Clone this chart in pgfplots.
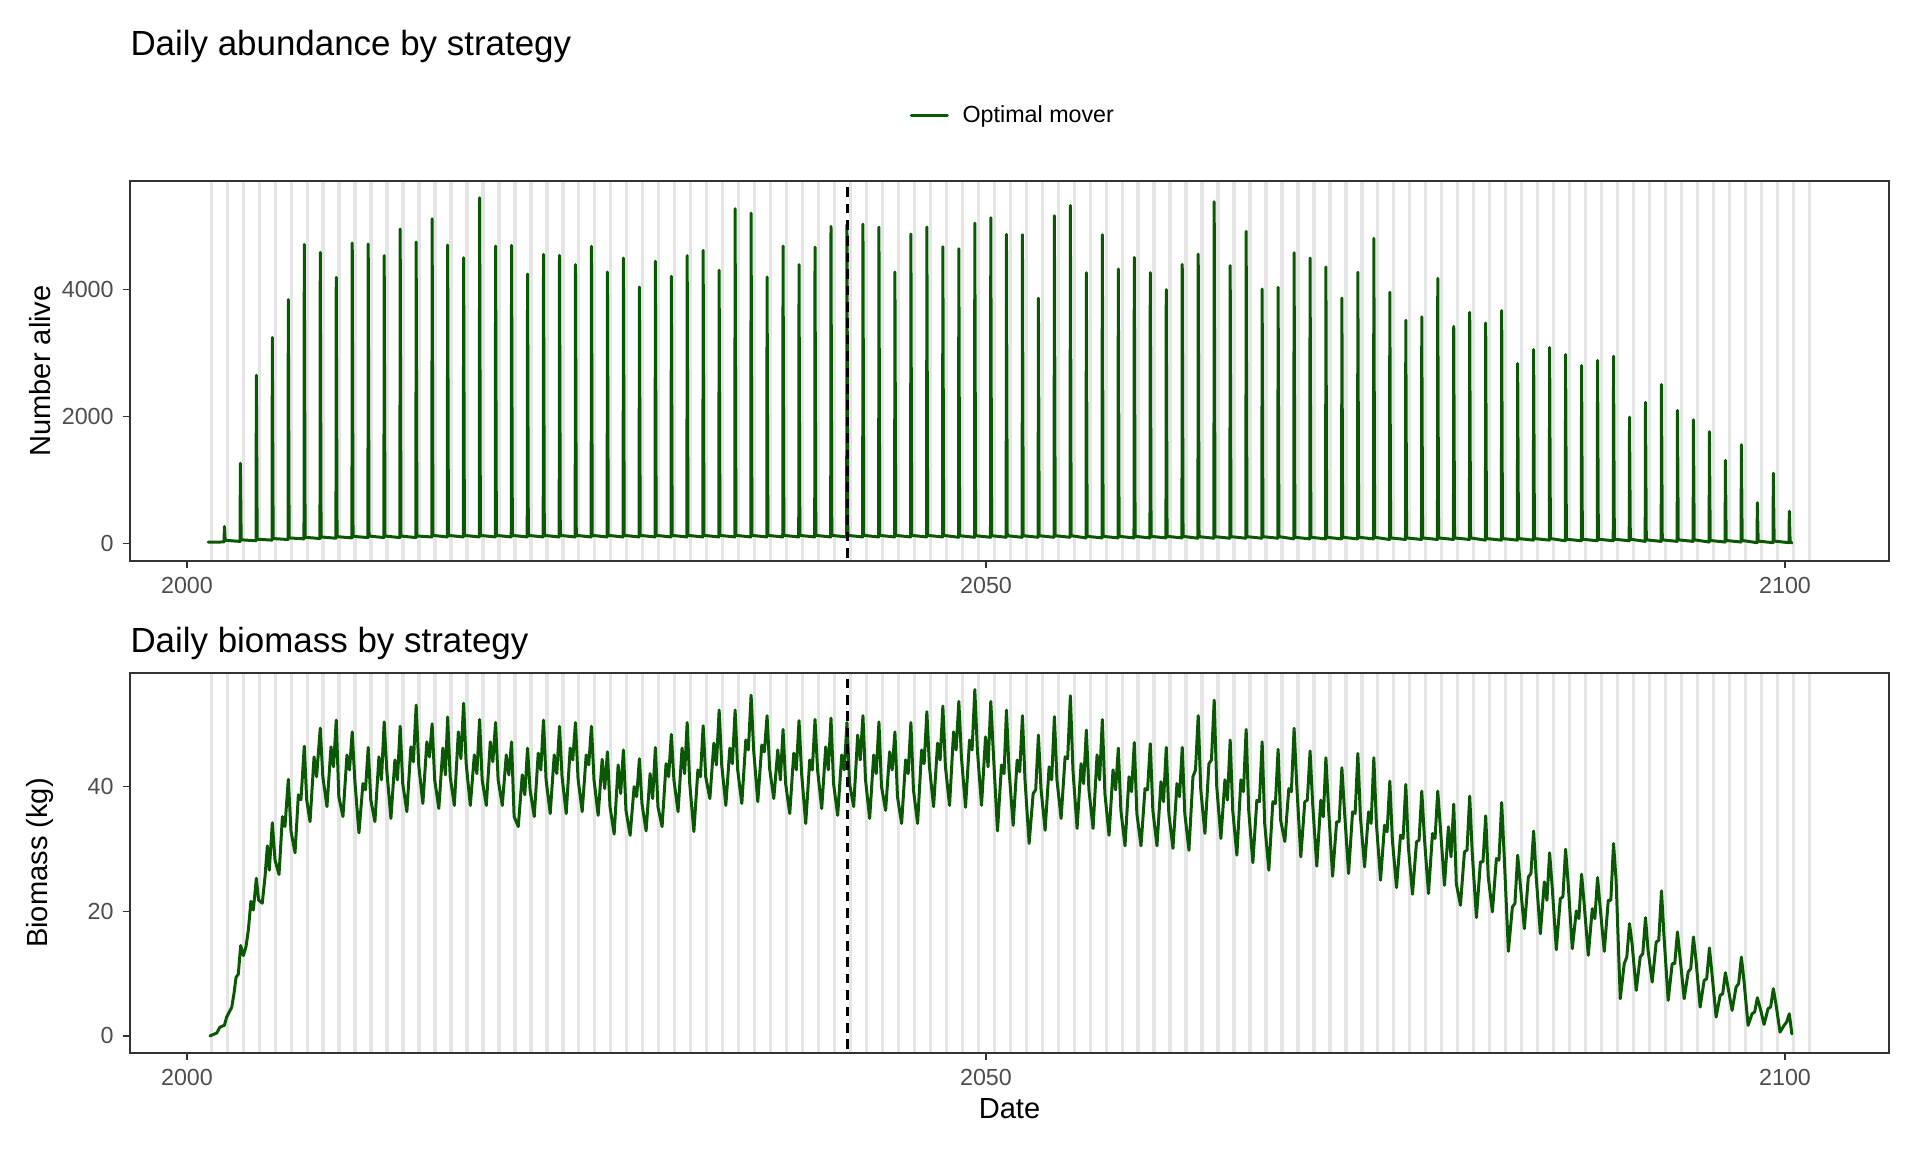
\documentclass[border=0pt]{standalone}
\usepackage{pgfplots}
\usepackage{pgfplotstable}
\pgfplotsset{compat=1.18}
\usepackage{fontspec}
\setmainfont{Liberation Sans}
\definecolor{mygreen}{RGB}{10,88,4}
\definecolor{vlinegray}{RGB}{229,229,229}
\definecolor{tickgray}{RGB}{77,77,77}
\definecolor{bordergray}{RGB}{51,51,51}

\pgfplotstableread[row sep=\\]{
x y\\
2001.33 20\\ 2001.70 18\\
2002.32 22\\ 2002.34 263\\ 2002.39 47\\
2003.32 30\\ 2003.34 1259\\ 2003.39 55\\
2004.32 40\\ 2004.34 2648\\ 2004.39 65\\
2005.32 50\\ 2005.34 3240\\ 2005.39 75\\
2006.32 60\\ 2006.34 3838\\ 2006.39 85\\
2007.32 70\\ 2007.34 4708\\ 2007.39 95\\
2008.32 75\\ 2008.34 4582\\ 2008.39 100\\
2009.32 80\\ 2009.34 4189\\ 2009.39 105\\
2010.32 85\\ 2010.34 4729\\ 2010.39 110\\
2011.32 90\\ 2011.34 4713\\ 2011.39 115\\
2012.32 90\\ 2012.34 4530\\ 2012.39 115\\
2013.32 90\\ 2013.34 4949\\ 2013.39 115\\
2014.32 90\\ 2014.34 4744\\ 2014.39 115\\
2015.32 100\\ 2015.34 5111\\ 2015.39 125\\
2016.29 100\\ 2016.31 4697\\ 2016.36 125\\
2017.29 100\\ 2017.31 4498\\ 2017.36 125\\
2018.29 100\\ 2018.31 5441\\ 2018.36 125\\
2019.29 100\\ 2019.31 4681\\ 2019.36 125\\
2020.29 100\\ 2020.31 4692\\ 2020.36 125\\
2021.29 100\\ 2021.31 4241\\ 2021.36 125\\
2022.29 100\\ 2022.31 4550\\ 2022.36 125\\
2023.29 100\\ 2023.31 4535\\ 2023.36 125\\
2024.29 100\\ 2024.31 4388\\ 2024.36 125\\
2025.29 100\\ 2025.31 4676\\ 2025.36 125\\
2026.29 100\\ 2026.31 4272\\ 2026.36 125\\
2027.29 100\\ 2027.31 4492\\ 2027.36 125\\
2028.29 100\\ 2028.31 4036\\ 2028.36 125\\
2029.29 100\\ 2029.31 4440\\ 2029.36 125\\
2030.29 100\\ 2030.31 4204\\ 2030.36 125\\
2031.28 100\\ 2031.30 4530\\ 2031.35 125\\
2032.28 100\\ 2032.30 4613\\ 2032.35 125\\
2033.28 100\\ 2033.30 4299\\ 2033.35 125\\
2034.28 100\\ 2034.30 5269\\ 2034.35 125\\
2035.28 100\\ 2035.30 5200\\ 2035.35 125\\
2036.28 100\\ 2036.30 4194\\ 2036.35 125\\
2037.28 100\\ 2037.30 4681\\ 2037.35 125\\
2038.28 100\\ 2038.30 4388\\ 2038.35 125\\
2039.28 100\\ 2039.30 4665\\ 2039.35 125\\
2040.28 100\\ 2040.30 4991\\ 2040.35 125\\
2041.28 100\\ 2041.30 5017\\ 2041.35 125\\
2042.28 100\\ 2042.30 5027\\ 2042.35 125\\
2043.28 100\\ 2043.30 4980\\ 2043.35 125\\
2044.28 100\\ 2044.30 4272\\ 2044.35 125\\
2045.28 100\\ 2045.30 4870\\ 2045.35 125\\
2046.28 100\\ 2046.30 4980\\ 2046.35 125\\
2047.28 100\\ 2047.30 4671\\ 2047.35 125\\
2048.28 95\\ 2048.30 4640\\ 2048.35 120\\
2049.28 95\\ 2049.30 5043\\ 2049.35 120\\
2050.28 95\\ 2050.30 5127\\ 2050.35 120\\
2051.26 95\\ 2051.28 4865\\ 2051.33 120\\
2052.26 95\\ 2052.28 4860\\ 2052.33 120\\
2053.26 95\\ 2053.28 3858\\ 2053.33 120\\
2054.26 95\\ 2054.28 5158\\ 2054.33 120\\
2055.26 95\\ 2055.28 5321\\ 2055.33 120\\
2056.26 85\\ 2056.28 4262\\ 2056.33 110\\
2057.26 85\\ 2057.28 4860\\ 2057.33 110\\
2058.26 85\\ 2058.28 4320\\ 2058.33 110\\
2059.26 85\\ 2059.28 4503\\ 2059.33 110\\
2060.26 85\\ 2060.28 4262\\ 2060.33 110\\
2061.26 85\\ 2061.28 3995\\ 2061.33 110\\
2062.26 85\\ 2062.28 4393\\ 2062.33 110\\
2063.26 80\\ 2063.28 4555\\ 2063.33 105\\
2064.26 80\\ 2064.28 5379\\ 2064.33 105\\
2065.26 80\\ 2065.28 4372\\ 2065.33 105\\
2066.26 80\\ 2066.28 4912\\ 2066.33 105\\
2067.26 80\\ 2067.28 4005\\ 2067.33 105\\
2068.26 80\\ 2068.28 4031\\ 2068.33 105\\
2069.26 70\\ 2069.28 4577\\ 2069.33 95\\
2070.26 70\\ 2070.28 4492\\ 2070.33 95\\
2071.25 70\\ 2071.27 4351\\ 2071.32 95\\
2072.25 70\\ 2072.27 3863\\ 2072.32 95\\
2073.25 70\\ 2073.27 4267\\ 2073.32 95\\
2074.25 70\\ 2074.27 4802\\ 2074.32 95\\
2075.25 60\\ 2075.27 3953\\ 2075.32 85\\
2076.25 60\\ 2076.27 3513\\ 2076.32 85\\
2077.25 60\\ 2077.27 3565\\ 2077.32 85\\
2078.25 60\\ 2078.27 4173\\ 2078.32 85\\
2079.25 60\\ 2079.27 3418\\ 2079.32 85\\
2080.25 60\\ 2080.27 3638\\ 2080.32 85\\
2081.25 50\\ 2081.27 3470\\ 2081.32 75\\
2082.25 50\\ 2082.27 3665\\ 2082.32 75\\
2083.25 50\\ 2083.27 2832\\ 2083.32 75\\
2084.25 50\\ 2084.27 3052\\ 2084.32 75\\
2085.25 50\\ 2085.27 3083\\ 2085.32 75\\
2086.25 40\\ 2086.27 2973\\ 2086.32 65\\
2087.25 40\\ 2087.27 2800\\ 2087.32 65\\
2088.25 40\\ 2088.27 2879\\ 2088.32 65\\
2089.25 40\\ 2089.27 2946\\ 2089.32 65\\
2090.25 40\\ 2090.27 1987\\ 2090.32 65\\
2091.25 30\\ 2091.27 2218\\ 2091.32 55\\
2092.25 30\\ 2092.27 2501\\ 2092.32 55\\
2093.25 30\\ 2093.27 2092\\ 2093.32 55\\
2094.25 30\\ 2094.27 1945\\ 2094.32 55\\
2095.25 20\\ 2095.27 1757\\ 2095.32 45\\
2096.25 20\\ 2096.27 1306\\ 2096.32 45\\
2097.25 20\\ 2097.27 1552\\ 2097.32 45\\
2098.25 10\\ 2098.27 640\\ 2098.32 35\\
2099.25 10\\ 2099.27 1102\\ 2099.32 35\\
2100.25 10\\ 2100.27 505\\ 2100.32 30\\ 2100.43 3\\
}\abund

\pgfplotstableread[row sep=\\]{
x y\\
2001.44 0.0\\ 2001.86 0.45\\ 2002.06 1.4\\ 2002.34 1.7\\ 2002.48 3.0\\
2002.80 4.6\\ 2002.94 6.8\\ 2003.07 9.4\\ 2003.21 9.9\\ 2003.36 14.5\\
2003.53 12.9\\ 2003.69 14.3\\ 2003.84 17.0\\ 2004.00 21.6\\ 2004.15 20.2\\
2004.34 25.3\\ 2004.48 21.8\\ 2004.71 21.3\\ 2004.88 25.5\\ 2005.03 30.5\\
2005.15 26.6\\ 2005.34 34.2\\ 2005.51 28.2\\ 2005.76 25.9\\ 2005.97 35.2\\
2006.13 33.6\\ 2006.34 41.2\\ 2006.51 32.8\\ 2006.76 29.4\\ 2006.97 38.7\\
2007.13 37.9\\ 2007.34 46.5\\ 2007.49 37.9\\ 2007.70 34.4\\ 2007.95 44.8\\
2008.11 41.6\\
2008.34 49.4\\ 2008.50 41.6\\ 2008.76 36.8\\ 2009.01 46.4\\ 2009.17 43.2\\
2009.34 50.7\\ 2009.50 38.4\\ 2009.76 35.2\\ 2010.01 45.1\\ 2010.17 42.7\\
2010.34 48.8\\ 2010.50 41.1\\ 2010.76 32.6\\ 2011.01 40.5\\ 2011.17 39.5\\
2011.34 46.3\\ 2011.50 37.9\\ 2011.76 34.4\\ 2012.01 44.8\\ 2012.17 41.1\\
2012.34 50.4\\ 2012.50 42.7\\ 2012.76 34.9\\ 2013.01 44.3\\ 2013.17 41.1\\
2013.34 49.7\\ 2013.50 40.5\\ 2013.76 36.0\\ 2014.01 46.4\\ 2014.17 44.0\\
2014.34 53.1\\ 2014.50 43.5\\ 2014.76 37.3\\ 2015.01 47.2\\ 2015.17 44.8\\
2015.34 50.1\\ 2015.50 41.1\\ 2015.76 36.5\\ 2016.01 46.2\\ 2016.17 41.9\\
2016.31 51.2\\ 2016.47 41.6\\ 2016.73 37.0\\ 2016.98 48.8\\ 2017.14 44.5\\
2017.31 53.4\\ 2017.47 43.7\\ 2017.73 37.0\\ 2017.98 45.1\\ 2018.14 42.1\\
2018.31 50.8\\ 2018.47 41.1\\ 2018.73 37.0\\ 2018.98 47.2\\ 2019.14 44.0\\
2019.31 50.3\\ 2019.47 41.1\\ 2019.73 37.0\\ 2019.98 45.1\\ 2020.14 41.9\\
2020.31 47.2\\ 2020.47 35.2\\ 2020.73 33.6\\ 2020.98 41.9\\ 2021.14 38.7\\
2021.31 46.2\\ 2021.47 39.5\\ 2021.73 35.2\\ 2021.98 45.4\\ 2022.14 42.7\\
2022.31 50.7\\ 2022.47 41.1\\ 2022.73 35.7\\ 2022.98 45.1\\ 2023.14 42.1\\
2023.31 49.7\\ 2023.47 41.6\\ 2023.73 35.7\\ 2023.98 46.2\\ 2024.14 44.3\\
2024.31 50.3\\ 2024.47 41.3\\ 2024.73 36.0\\ 2024.98 45.1\\ 2025.14 43.5\\
2025.31 49.7\\ 2025.47 41.1\\ 2025.73 35.4\\ 2025.98 44.4\\ 2026.14 39.7\\
2026.31 45.6\\ 2026.47 36.8\\ 2026.73 32.4\\ 2026.98 43.5\\ 2027.14 38.9\\
2027.31 45.9\\ 2027.47 36.2\\ 2027.73 32.2\\ 2027.98 40.0\\ 2028.14 38.4\\
2028.31 44.5\\ 2028.47 37.3\\ 2028.73 32.9\\ 2028.98 42.1\\ 2029.14 38.1\\
2029.31 46.3\\ 2029.47 36.8\\ 2029.73 33.6\\ 2029.98 43.7\\ 2030.14 41.6\\
2030.31 48.4\\ 2030.47 41.1\\ 2030.73 36.0\\ 2030.98 46.2\\ 2031.14 42.1\\
2031.30 50.3\\ 2031.46 40.5\\ 2031.72 32.8\\ 2031.97 42.7\\ 2032.13 41.6\\
2032.30 49.8\\ 2032.46 41.6\\ 2032.72 38.1\\ 2032.97 47.0\\ 2033.13 43.5\\
2033.30 52.3\\ 2033.46 43.5\\ 2033.72 37.0\\ 2033.97 46.2\\ 2034.13 43.7\\
2034.30 52.3\\ 2034.46 42.7\\ 2034.72 37.3\\ 2034.97 47.5\\ 2035.13 45.9\\
2035.30 54.7\\ 2035.46 45.9\\ 2035.72 37.6\\ 2035.97 46.7\\ 2036.13 45.6\\
2036.30 51.4\\ 2036.46 42.9\\ 2036.72 38.1\\ 2036.97 45.9\\ 2037.13 41.1\\
2037.30 49.2\\ 2037.46 40.5\\ 2037.72 35.7\\ 2037.97 45.4\\ 2038.13 42.7\\
2038.30 50.6\\ 2038.46 42.1\\ 2038.72 34.1\\ 2038.97 44.3\\ 2039.13 42.7\\
2039.30 50.8\\ 2039.46 42.7\\ 2039.72 36.5\\ 2039.97 46.4\\ 2040.13 42.7\\
2040.30 51.0\\ 2040.46 40.5\\ 2040.72 35.4\\ 2040.97 45.1\\ 2041.13 42.7\\
2041.30 50.3\\ 2041.46 40.5\\ 2041.72 36.8\\ 2041.97 48.3\\ 2042.13 44.3\\
2042.30 51.4\\ 2042.46 41.1\\ 2042.72 34.9\\ 2042.97 45.1\\ 2043.13 42.1\\
2043.30 50.4\\ 2043.46 40.0\\ 2043.72 36.2\\ 2043.97 45.6\\ 2044.13 42.7\\
2044.30 48.8\\ 2044.46 38.4\\ 2044.72 34.1\\ 2044.97 44.3\\ 2045.13 42.1\\
2045.30 50.3\\ 2045.46 39.5\\ 2045.72 34.1\\ 2045.97 45.9\\ 2046.13 43.7\\
2046.30 52.05\\ 2046.46 43.2\\ 2046.72 36.8\\ 2046.97 47.0\\ 2047.13 44.3\\
2047.30 52.95\\ 2047.46 43.2\\ 2047.72 37.0\\ 2047.97 48.8\\ 2048.13 45.9\\
2048.30 53.7\\ 2048.46 44.8\\ 2048.72 36.7\\ 2048.97 47.5\\ 2049.13 45.9\\
2049.30 55.6\\ 2049.46 45.9\\ 2049.72 37.0\\ 2049.97 48.0\\ 2050.13 43.2\\
2050.30 53.7\\ 2050.46 45.4\\ 2050.72 32.9\\ 2050.97 43.5\\ 2051.13 42.1\\
2051.28 52.3\\ 2051.44 42.7\\ 2051.70 33.8\\ 2051.95 44.3\\ 2052.11 42.4\\
2052.28 51.4\\ 2052.44 41.1\\ 2052.70 30.9\\ 2052.95 38.9\\ 2053.11 39.5\\
2053.28 48.3\\ 2053.44 39.7\\ 2053.70 33.0\\ 2053.95 43.2\\ 2054.11 41.1\\
2054.28 51.25\\ 2054.44 41.1\\ 2054.70 34.9\\ 2054.95 44.8\\ 2055.11 44.5\\
2055.28 54.6\\ 2055.44 42.7\\ 2055.70 33.3\\ 2055.95 43.7\\ 2056.11 40.5\\
2056.28 49.1\\ 2056.44 39.5\\ 2056.70 33.3\\ 2056.95 45.1\\ 2057.11 41.1\\
2057.28 50.8\\ 2057.44 38.9\\ 2057.70 32.2\\ 2057.95 42.7\\ 2058.11 39.5\\
2058.28 46.2\\ 2058.44 36.2\\ 2058.70 30.5\\ 2058.95 41.6\\ 2059.11 39.2\\
2059.28 47.1\\ 2059.44 35.7\\ 2059.70 30.5\\ 2059.95 39.7\\ 2060.11 39.5\\
2060.28 46.9\\ 2060.44 36.2\\ 2060.70 30.5\\ 2060.95 40.8\\ 2061.11 37.6\\
2061.28 46.3\\ 2061.44 35.7\\ 2061.70 30.1\\ 2061.95 40.5\\ 2062.11 38.4\\
2062.28 46.3\\ 2062.44 35.7\\ 2062.70 29.8\\ 2062.95 41.6\\ 2063.11 42.7\\
2063.28 51.4\\ 2063.44 39.5\\ 2063.70 32.5\\ 2063.95 43.7\\ 2064.11 44.3\\
2064.28 53.9\\ 2064.44 40.0\\ 2064.70 31.7\\ 2064.95 41.1\\ 2065.11 37.85\\
2065.28 47.5\\ 2065.44 36.2\\ 2065.70 29.0\\ 2065.95 41.1\\ 2066.11 39.2\\
2066.28 49.2\\ 2066.44 36.2\\ 2066.70 27.8\\ 2066.95 37.85\\ 2067.11 37.6\\
2067.28 47.2\\ 2067.44 34.1\\ 2067.70 26.6\\ 2067.95 37.6\\ 2068.11 37.3\\
2068.28 46.0\\ 2068.44 34.6\\ 2068.70 31.2\\ 2068.95 39.7\\ 2069.11 39.2\\
2069.28 49.37\\ 2069.44 40.53\\ 2069.70 28.74\\ 2069.95 37.58\\ 2070.11 37.85\\
2070.28 45.73\\ 2070.44 37.31\\ 2070.70 27.24\\ 2070.95 37.85\\ 2071.11 35.17\\
2071.27 44.66\\ 2071.43 36.78\\ 2071.69 25.63\\ 2071.94 34.37\\ 2072.10 34.37\\
2072.27 43.05\\ 2072.43 36.24\\ 2072.69 26.06\\ 2072.94 35.97\\ 2073.10 35.71\\
2073.27 45.35\\ 2073.43 35.17\\ 2073.69 27.13\\ 2073.94 35.97\\ 2074.10 34.10\\
2074.27 44.66\\ 2074.43 34.10\\ 2074.69 24.99\\ 2074.94 33.83\\ 2075.10 32.76\\
2075.27 40.90\\ 2075.43 31.42\\ 2075.69 23.81\\ 2075.94 32.22\\ 2076.10 31.69\\
2076.27 40.37\\ 2076.43 30.35\\ 2076.69 22.74\\ 2076.94 31.15\\ 2077.10 31.42\\
2077.27 39.30\\ 2077.43 31.95\\ 2077.69 22.84\\ 2077.94 32.49\\ 2078.10 31.69\\
2078.27 39.30\\ 2078.43 33.56\\ 2078.69 24.18\\ 2078.94 33.56\\ 2079.10 28.74\\
2079.27 37.21\\ 2079.43 24.45\\ 2079.69 20.97\\ 2079.94 29.54\\ 2080.10 29.81\\
2080.27 38.49\\ 2080.43 29.28\\ 2080.69 18.99\\ 2080.94 27.94\\ 2081.10 27.94\\
2081.27 35.33\\ 2081.43 25.52\\ 2081.69 19.90\\ 2081.94 28.47\\ 2082.10 28.20\\
2082.27 37.47\\ 2082.43 28.74\\ 2082.69 13.57\\ 2082.94 20.70\\ 2083.10 21.24\\
2083.27 29.01\\ 2083.43 24.45\\ 2083.69 17.22\\ 2083.94 25.52\\ 2084.10 26.06\\
2084.27 32.87\\ 2084.43 25.52\\ 2084.69 16.41\\ 2084.94 24.72\\ 2085.10 21.77\\
2085.27 29.38\\ 2085.43 23.92\\ 2085.69 13.84\\ 2085.94 22.04\\ 2086.10 22.31\\
2086.27 29.97\\ 2086.43 24.45\\ 2086.69 14.00\\ 2086.94 20.06\\ 2087.10 18.82\\
2087.27 25.95\\ 2087.43 21.24\\ 2087.69 12.93\\ 2087.94 20.43\\ 2088.10 18.82\\
2088.27 25.42\\ 2088.43 20.70\\ 2088.69 13.57\\ 2088.94 21.77\\ 2089.10 21.77\\
2089.27 30.88\\ 2089.43 24.99\\ 2089.69 5.96\\ 2089.94 11.59\\ 2090.10 12.66\\
2090.27 18.02\\ 2090.43 14.81\\ 2090.69 7.30\\ 2090.94 12.66\\ 2091.10 13.20\\
2091.27 18.99\\ 2091.43 13.73\\ 2091.69 8.64\\ 2091.94 15.07\\ 2092.10 15.34\\
2092.27 23.27\\ 2092.43 15.88\\ 2092.69 5.70\\ 2092.94 11.59\\ 2093.10 11.59\\
2093.27 16.68\\ 2093.43 12.66\\ 2093.69 5.96\\ 2093.94 10.25\\ 2094.10 10.79\\
2094.27 15.88\\ 2094.43 12.13\\ 2094.69 4.62\\ 2094.94 8.91\\ 2095.10 9.18\\
2095.27 14.11\\ 2095.43 9.98\\ 2095.69 3.02\\ 2095.94 6.50\\ 2096.10 6.77\\
2096.27 10.14\\ 2096.43 7.84\\ 2096.69 4.09\\ 2096.94 7.84\\ 2097.10 8.38\\
2097.27 12.66\\ 2097.43 8.91\\ 2097.69 1.68\\ 2097.94 3.55\\ 2098.10 3.82\\
2098.27 6.12\\ 2098.43 4.62\\ 2098.69 1.84\\ 2098.94 4.36\\ 2099.10 4.62\\
2099.27 7.57\\ 2099.43 5.16\\ 2099.69 0.60\\ 2099.94 1.68\\ 2100.10 2.21\\
2100.27 3.55\\ 2100.43 0.30\\
}\biomass

\pgfplotsset{
  mypanel/.style={
    scale only axis, width=664.9pt, height=143.64pt,
    anchor=north west,
    xmin=1996.433, xmax=2106.508,
    xtick={2000,2050,2100},
    tick align=outside, tick pos=left,
    major tick length=2.65pt,
    tick style={draw=bordergray, line width=0.5pt},
    axis line style={draw=bordergray, line width=0.6pt},
    ticklabel style={font=\fontsize{8.8}{10.5}\selectfont, text=tickgray},
    /pgf/number format/assume math mode=true,
    /pgf/number format/1000 sep={},
    scaled ticks=false,
    extra x ticks={2001.52,2002.52,...,2101.52},
    extra x tick labels={},
    extra x tick style={grid=major, tick style={draw=none}},
    major grid style={draw=vlinegray, line width=1.25pt},
    label style={font=\fontsize{11}{13}\selectfont},
    ylabel style={at={(axis description cs:-0.0512,0.5)}, anchor=center},
  }
}

\begin{document}
\begin{tikzpicture}
\path[use as bounding box] (0pt,0pt) rectangle (725.76pt,-435.46pt);

\node[anchor=base west, inner sep=0pt, font=\fontsize{13.2}{15.5}\selectfont] at (49.14pt,-20.95pt) {Daily abundance by strategy};
\node[anchor=base west, inner sep=0pt, font=\fontsize{13.2}{15.5}\selectfont] at (49.14pt,-246.6pt) {Daily biomass by strategy};

\begin{axis}[mypanel,
  at={(49.14pt,-68.42pt)},
  ymin=-278.7, ymax=5705.5,
  ytick={0,2000,4000},
  ylabel={Number alive},
  legend style={at={(axis description cs:0.5,1)}, anchor=center, xshift=1.9pt, yshift=24.6pt,
    draw=none, fill=none, font=\fontsize{8.8}{10.5}\selectfont},
  legend image code/.code={\path[draw=none] (0pt,0pt) -- (17.4pt,0pt); \draw[#1] (0pt,0pt) -- (13.6pt,0pt);},
]
\addplot[draw=mygreen, line width=1.13pt, line join=round, line cap=round] table[x=x, y=y] {\abund};
\addlegendentry{Optimal mover}
\addplot[forget plot, black, line width=1pt, dash pattern=on 3.6pt off 2.6pt] coordinates {(2041.35,-1000) (2041.35,8000)};
\draw[bordergray, line width=0.6pt] (rel axis cs:0,0) rectangle (rel axis cs:1,1);
\end{axis}

\begin{axis}[mypanel,
  at={(49.14pt,-254.39pt)},
  ymin=-2.75, ymax=58.26,
  ytick={0,20,40},
  ylabel={Biomass (kg)},
  xlabel={Date},
  xlabel style={at={(axis description cs:0.5,-0.146)}, anchor=center},
]
\addplot[draw=mygreen, line width=1.13pt, line join=round, line cap=round] table[x=x, y=y] {\biomass};
\addplot[forget plot, black, line width=1pt, dash pattern=on 3.6pt off 2.6pt] coordinates {(2041.35,-10) (2041.35,80)};
\draw[bordergray, line width=0.6pt] (rel axis cs:0,0) rectangle (rel axis cs:1,1);
\end{axis}
\end{tikzpicture}
\end{document}
